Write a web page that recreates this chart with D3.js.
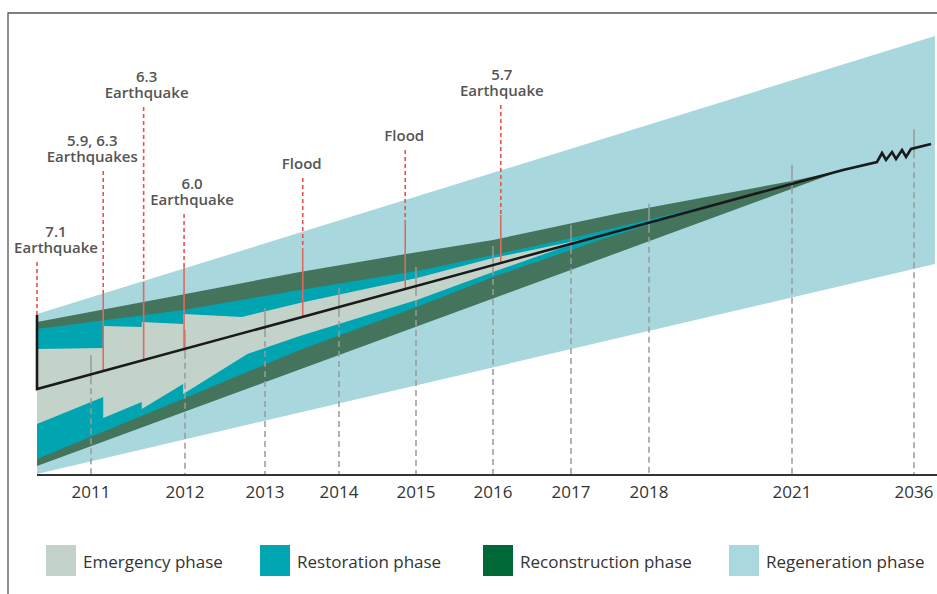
<!DOCTYPE html>
<html>
<head>
    <meta charset="utf-8">
    <script src="https://d3js.org/d3.v7.min.js"></script>
    <style>
        body { margin: 0; background: #fff; }
        text { font-family: "Open Sans", sans-serif; }
    </style>
</head>
<body>
    <script>
        // tick labels and legend
        var years = [2011, 2012, 2013, 2014, 2015, 2016, 2017, 2018, 2021, 2036];
        var phases = ["Emergency phase", "Restoration phase", "Reconstruction phase", "Regeneration phase"];

        // phase bands: [year, level]
        var regenerationTop = [[2010.5, 161], [2036.91, 439]];
        var regenerationBottom = [[2010.5, 1], [2036.91, 211]];
        var reconstructionTop = [[2010.5, 153], [2011.95, 180], [2013.47, 203], [2014.79, 220], [2016.0, 235], [2017.63, 262], [2021, 294], [2027.27, 305]];
        var reconstructionBottom = [[2010.5, 9], [2027.27, 305]];
        var restorationTop = [[2010.5, 146], [2011.98, 165], [2013.47, 185], [2015.01, 204], [2016.0, 220], [2017.01, 237], [2019.38, 271]];
        var restorationBottom = [[2010.5, 16], [2011.95, 75], [2013.47, 125], [2015.01, 168], [2016.0, 198], [2017.37, 235], [2019.38, 271]];
        var emergencyTop = [[2010.5, 126], [2011.13, 127], [2011.13, 149], [2011.54, 148], [2011.54, 153], [2011.98, 151], [2011.98, 161], [2012.71, 158], [2013.47, 172], [2015.01, 197], [2016.0, 217], [2017.24, 237]];
        var emergencyBottom = [[2010.5, 51], [2011.13, 78], [2011.13, 57], [2011.54, 73], [2011.54, 66], [2011.98, 91], [2011.98, 81], [2012.78, 121], [2013.47, 139], [2015.01, 175], [2016.0, 203], [2017.24, 237]];

        // recovery line, with the break before 2036
        var recoveryLine = [[2010.5, 160], [2010.5, 86], [2027.27, 305], [2031.45, 313], [2032.07, 322], [2032.56, 315], [2033.30, 323], [2033.79, 316], [2034.53, 325], [2035.02, 318], [2035.63, 326], [2036.74, 331]];

        // events
        var eventLabels = [["7.1", "Earthquake"], ["5.9, 6.3", "Earthquakes"], ["6.3", "Earthquake"], ["6.0", "Earthquake"], ["Flood"], ["Flood"], ["5.7", "Earthquake"]];
        var eventDates = [2010.5, 2011.13, 2011.56, 2011.99, 2013.51, 2014.86, 2016.10];
        var eventTops = [213, 304, 368, 261, 297, 325, 370];
        var eventSolidFrom = [160, 182, 193, 208, 227, 255, 260];
        var eventBases = [160, 104, 114, 126, 158, 186, 212];

        var width = 937, height = 594;
        var svg = d3.select("body").append("svg")
            .attr("width", width)
            .attr("height", height);

        // piecewise time axis (compressed after 2018)
        var x = d3.scaleLinear()
            .domain([2010.5, 2011, 2012, 2013, 2014, 2015, 2016, 2017, 2018, 2021, 2036, 2037])
            .range([37, 91, 185, 265, 339, 416, 493, 571, 649, 792, 914, 937]);
        var y = d3.scaleLinear().domain([0, 440]).range([475, 35]);

        var line = d3.line().x(d => x(d[0])).y(d => y(d[1]));
        function band(top, bottom) {
            return line(top.concat(bottom.slice().reverse())) + "Z";
        }

        var colors = {
            emergency: "#c3d3c9",
            restoration: "#00a5b1",
            reconstruction: "#44745c",
            regeneration: "#a8d8de"
        };

        // frame
        svg.append("path")
            .attr("d", "M8,594V13H937")
            .attr("fill", "none")
            .attr("stroke", "#555")
            .attr("stroke-width", 1.3);

        svg.append("path").attr("d", band(regenerationTop, regenerationBottom)).attr("fill", colors.regeneration);
        svg.append("path").attr("d", band(reconstructionTop, reconstructionBottom)).attr("fill", colors.reconstruction);
        svg.append("path").attr("d", band(restorationTop, restorationBottom)).attr("fill", colors.restoration);
        svg.append("path").attr("d", band(emergencyTop, emergencyBottom)).attr("fill", colors.emergency);

        // y of the recovery line at a pixel x
        var linePts = recoveryLine.slice(1).map(d => [x(d[0]), y(d[1])]);
        function lineAt(px) {
            for (var i = 0; i < linePts.length - 1; i++) {
                var a = linePts[i], b = linePts[i + 1];
                if (px >= a[0] && px <= b[0]) return a[1] + (b[1] - a[1]) * (px - a[0]) / (b[0] - a[0]);
            }
            return linePts[linePts.length - 1][1];
        }

        // year gridlines: short solid stub across the line, dashed below
        var grid = svg.append("g");
        years.forEach(function(yr) {
            var gx = x(yr), top = lineAt(gx) - 19;
            grid.append("line")
                .attr("x1", gx).attr("x2", gx)
                .attr("y1", top).attr("y2", top + 23)
                .attr("stroke", "#999").attr("stroke-width", 1.5);
            grid.append("line")
                .attr("x1", gx).attr("x2", gx)
                .attr("y1", top + 23).attr("y2", y(0))
                .attr("stroke", "#999").attr("stroke-width", 1.5)
                .attr("stroke-dasharray", "6,4");
        });

        // event markers
        var labelShift = [19, -11, 3, 8, -1, -1, 1];
        var ev = svg.append("g");
        eventDates.forEach(function(t, i) {
            var ex = x(t);
            ev.append("line")
                .attr("x1", ex).attr("x2", ex)
                .attr("y1", y(eventTops[i])).attr("y2", y(eventSolidFrom[i]))
                .attr("stroke", "#e8524a").attr("stroke-width", 1.6)
                .attr("stroke-dasharray", "4,3");
            ev.append("line")
                .attr("x1", ex).attr("x2", ex)
                .attr("y1", y(eventSolidFrom[i])).attr("y2", y(eventBases[i]))
                .attr("stroke", "#de6a5e").attr("stroke-width", 1.6);
            var lines = eventLabels[i];
            var base = y(eventTops[i]) - 9;
            lines.forEach(function(s, j) {
                ev.append("text")
                    .attr("x", ex + labelShift[i])
                    .attr("y", base - (lines.length - 1 - j) * 16)
                    .attr("text-anchor", "middle")
                    .attr("font-size", 15)
                    .attr("font-weight", 600)
                    .attr("fill", "#555")
                    .text(s);
            });
        });

        // recovery line
        svg.append("path")
            .attr("d", line(recoveryLine))
            .attr("fill", "none")
            .attr("stroke", "#1a1a1a")
            .attr("stroke-width", 2.6)
            .attr("stroke-linejoin", "miter");

        // baseline + year labels
        svg.append("line")
            .attr("x1", x(2010.5)).attr("x2", width)
            .attr("y1", y(0)).attr("y2", y(0))
            .attr("stroke", "#333").attr("stroke-width", 2);

        svg.append("g").selectAll("text")
            .data(years)
            .join("text")
            .attr("x", d => x(d))
            .attr("y", 498)
            .attr("text-anchor", "middle")
            .attr("font-size", 17)
            .attr("fill", "#333")
            .text(d => d);

        // legend
        var legendColors = ["#c3d3c9", "#00a6b1", "#006837", "#a9d8de"];
        var legendX = [46, 260, 483, 729];
        var lg = svg.append("g").selectAll("g")
            .data(phases)
            .join("g")
            .attr("transform", (d, i) => "translate(" + legendX[i] + ",545)");
        lg.append("rect")
            .attr("width", 30).attr("height", 31)
            .attr("fill", (d, i) => legendColors[i]);
        lg.append("text")
            .attr("x", 37).attr("y", 23)
            .attr("font-size", 17)
            .attr("fill", "#333")
            .text(d => d);
    </script>
</body>
</html>
